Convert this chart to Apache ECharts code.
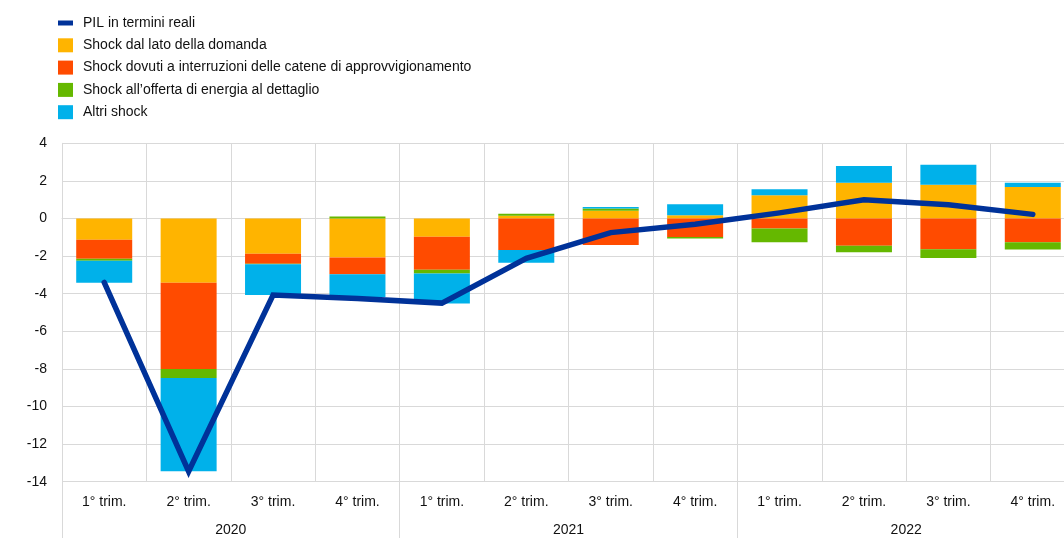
<!DOCTYPE html>
<html>
<head>
<meta charset="utf-8">
<script src="https://cdn.jsdelivr.net/npm/echarts@6/dist/echarts.min.js"></script>
<style>
  html, body { margin: 0; padding: 0; background: #fff; overflow: hidden; }
  #chart { width: 1075px; height: 538px; }
</style>
</head>
<body>
<div id="chart"></div>
<script>
const quarters = ['1° trim.', '2° trim.', '3° trim.', '4° trim.',
                  '1° trim.', '2° trim.', '3° trim.', '4° trim.',
                  '1° trim.', '2° trim.', '3° trim.', '4° trim.'];
const years = ['2020', '2021', '2022'];
const yTicks = { min: -14, max: 4, step: 2 };

const gdp         = [-3.4, -13.45, -4.07, -4.25, -4.5, -2.12, -0.75, -0.31, 0.3, 1.0, 0.73, 0.22];
const demand      = [-1.13, -3.42, -1.88, -2.07, -0.97, 0.15, 0.41, 0.17, 1.24, 1.9, 1.8, 1.67];
const supplyChain = [-1.01, -4.59, -0.53, -0.89, -1.76, -1.68, -1.41, -0.99, -0.53, -1.45, -1.63, -1.26];
const energy      = [-0.11, -0.48, -0.02, 0.1, -0.19, 0.1, 0.12, -0.07, -0.73, -0.35, -0.47, -0.39];
const other       = [-1.17, -4.96, -1.64, -1.22, -1.6, -0.68, 0.08, 0.59, 0.31, 0.89, 1.06, 0.23];

const names = {
  gdp: 'PIL in termini reali',
  demand: 'Shock dal lato della domanda',
  supply: 'Shock dovuti a interruzioni delle catene di approvvigionamento',
  energy: 'Shock all\u2019offerta di energia al dettaglio',
  other: 'Altri shock'
};

const FONT = '"Liberation Sans", Arial, sans-serif';
const TXT = '#111111';
const GRID = '#d9d9d9';

const chart = echarts.init(document.getElementById('chart'), null, { renderer: 'canvas' });

function barSeries(name, data, color) {
  return {
    name: name, type: 'bar', stack: 'total', data: data,
    barWidth: 56, itemStyle: { color: color }, emphasis: { disabled: true }
  };
}

chart.setOption({
  animation: false,
  textStyle: { fontFamily: FONT },
  legend: {
    orient: 'vertical', left: 58, top: 16, padding: 0,
    itemWidth: 15, itemHeight: 14, itemGap: 8.3,
    selectedMode: false,
    textStyle: { fontFamily: FONT, fontSize: 14, color: TXT, padding: [0, 0, 0, 5], lineHeight: 14 },
    data: [
      { name: names.gdp, icon: 'path://M0,0L15,0L15,5L0,5Z' },
      { name: names.demand, icon: 'rect' },
      { name: names.supply, icon: 'rect' },
      { name: names.energy, icon: 'rect' },
      { name: names.other, icon: 'rect' }
    ]
  },
  grid: { left: 62, right: 0, top: 143.3, bottom: 56.3, containLabel: false },
  xAxis: [
    {
      type: 'category', data: quarters, position: 'bottom',
      axisLine: { show: true, lineStyle: { color: GRID, width: 1 } },
      axisTick: { show: false },
      splitLine: { show: true, interval: 0, lineStyle: { color: GRID, width: 1 } },
      axisLabel: { interval: 0, margin: 13, fontSize: 14, color: TXT, fontFamily: FONT }
    },
    {
      type: 'category', data: years, position: 'bottom',
      axisLine: { show: false },
      axisTick: { show: true, interval: 0, length: 60, lineStyle: { color: GRID, width: 1 } },
      splitLine: { show: false },
      axisLabel: { interval: 0, margin: 41, fontSize: 14, color: TXT, fontFamily: FONT }
    }
  ],
  yAxis: {
    type: 'value', min: yTicks.min, max: yTicks.max, interval: yTicks.step,
    axisLine: { show: true, lineStyle: { color: GRID, width: 1 } },
    axisTick: { show: false },
    splitLine: { show: true, lineStyle: { color: GRID, width: 1 } },
    axisLabel: { margin: 15, fontSize: 14, color: TXT, fontFamily: FONT }
  },
  series: [
    barSeries(names.demand, demand, '#FFB400'),
    barSeries(names.supply, supplyChain, '#FF4B00'),
    barSeries(names.energy, energy, '#65B800'),
    barSeries(names.other, other, '#00B1EA'),
    {
      name: names.gdp, type: 'line', data: gdp, xAxisIndex: 0,
      symbol: 'none', z: 10,
      lineStyle: { color: '#003299', width: 5.5, cap: 'round', join: 'miter' },
      itemStyle: { color: '#003299' },
      emphasis: { disabled: true }
    }
  ]
});
</script>
</body>
</html>
